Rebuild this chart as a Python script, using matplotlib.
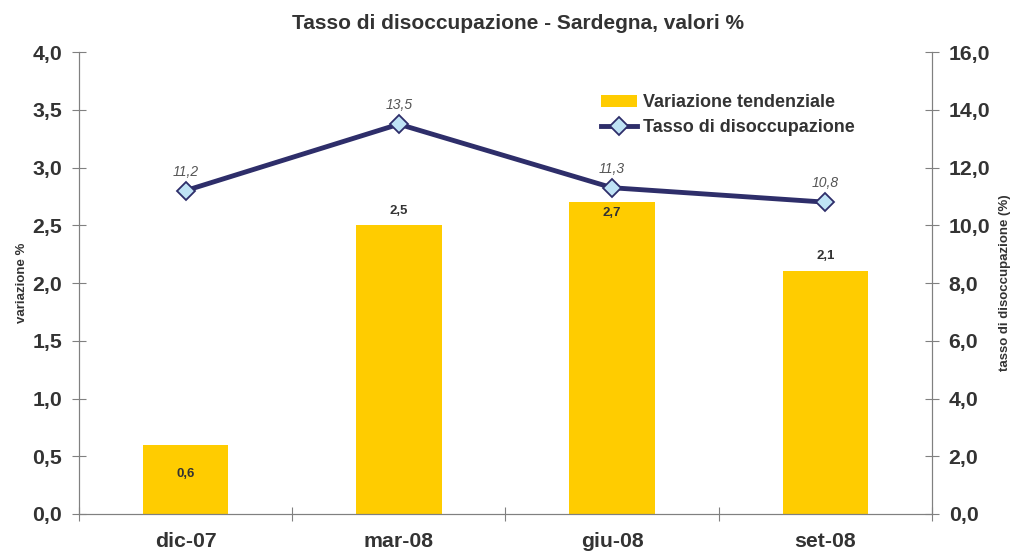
import matplotlib
matplotlib.use("Agg")
import matplotlib.pyplot as plt
import numpy as np

plt.rcParams["font.family"] = ["Liberation Sans", "DejaVu Sans"]

# dati
periodi = ["dic-07", "mar-08", "giu-08", "set-08"]
variazione = [0.6, 2.5, 2.7, 2.1]
tasso = [11.2, 13.5, 11.3, 10.8]
# posizione etichette barre (spostamento rispetto alla cima, in unita' dell'asse)
label_shift = [-0.25, 0.12, -0.095, 0.13]

txt = "#333333"
grigio = "#808080"

fig = plt.figure(figsize=(10.12, 5.57), dpi=100)
ax1 = fig.add_axes([0.078, 0.0772, 0.843, 0.8294])
ax2 = ax1.twinx()

x = np.arange(len(periodi))
bars = ax1.bar(x, variazione, width=0.4, color="#FFCC00", label="Variazione tendenziale", zorder=2)
line, = ax2.plot(x, tasso, color="#2E2E6A", lw=3.5, marker="D", ms=9,
                 mfc="#BFE3F5", mec="#2E2E6A", mew=1.3, label="Tasso di disoccupazione")

ax1.set_xlim(-0.5, 3.5)
ax1.set_ylim(0, 4)
ax2.set_ylim(0, 16)
ax1.set_yticks(np.arange(0, 4.01, 0.5))
ax2.set_yticks(np.arange(0, 16.01, 2))
ax1.set_yticklabels([f"{v:.1f}".replace(".", ",") for v in np.arange(0, 4.01, 0.5)])
ax2.set_yticklabels([f"{v:.1f}".replace(".", ",") for v in np.arange(0, 16.01, 2)])

ax1.set_xticks(np.arange(-0.5, 3.6, 1))
ax1.set_xticklabels([])
ax1.set_xticks(x, minor=True)
ax1.set_xticklabels(periodi, minor=True)
ax1.tick_params(axis="x", which="minor", length=0, pad=13, labelsize=15.3, labelcolor=txt)
ax1.tick_params(axis="x", which="major", direction="inout", length=10, color=grigio)

for ax in (ax1, ax2):
    ax.spines["top"].set_visible(False)
    for s in ("left", "right", "bottom"):
        ax.spines[s].set_color(grigio)
    ax.tick_params(axis="y", direction="inout", length=10, color=grigio,
                   labelsize=15.3, labelcolor=txt, pad=7)
    for lab in ax.get_yticklabels() + ax.get_xticklabels(minor=True):
        lab.set_fontweight("bold")

ax1.set_ylabel("variazione %", fontsize=9.5, fontweight="bold", color=txt, labelpad=3)
ax2.set_ylabel("tasso di disoccupazione (%)", fontsize=9.5, fontweight="bold", color=txt, labelpad=6)

for xi, v, d in zip(x, variazione, label_shift):
    y = v + d if v > 1 else v * 0.58
    ax1.text(xi, y, f"{v:.1f}".replace(".", ","), ha="center", va="center",
             fontsize=9.5, fontweight="bold", color=txt, zorder=3)

for xi, v in zip(x, tasso):
    ax2.annotate(f"{v:.1f}".replace(".", ","), (xi, v), xytext=(0, 13.5), textcoords="offset points",
                 ha="center", va="center", fontsize=10, style="italic", color="#555555")

fig.suptitle("Tasso di disoccupazione - Sardegna, valori %", x=0.512, y=0.975,
             fontsize=15, fontweight="bold", color=txt)

fig.legend([bars, line], ["Variazione tendenziale", "Tasso di disoccupazione"],
           loc="upper left", bbox_to_anchor=(0.578, 0.86), frameon=False,
           prop={"weight": "bold", "size": 13}, labelcolor=txt,
           handlelength=2.0, handletextpad=0.3, labelspacing=0.45)

fig.savefig("out.png", dpi=100)
